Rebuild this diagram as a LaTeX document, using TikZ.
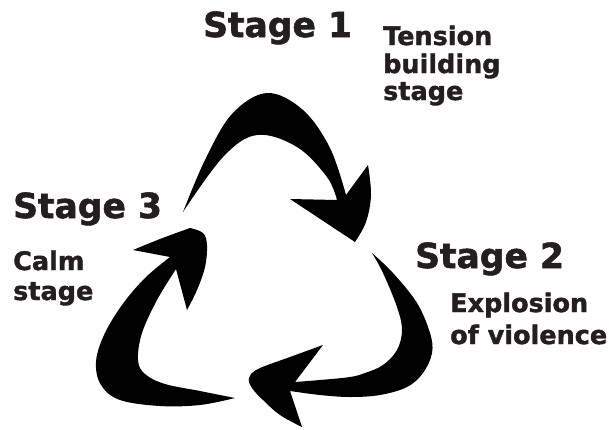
\documentclass[tikz,border=0pt]{standalone}
\usepackage{fontspec}
\setmainfont{DejaVu Sans}[BoldFeatures={FakeBold=1.6}]
\definecolor{txt}{HTML}{231F20}
\begin{document}
\begin{tikzpicture}[x=1pt,y=-1pt,
  stagelbl/.style={anchor=base west,inner sep=0pt,text=txt,font=\fontsize{34.5}{40}\selectfont\bfseries},
  desclbl/.style={anchor=base west,inner sep=0pt,text=txt,font=\fontsize{25.5}{30}\selectfont\bfseries},
  arrowshape/.style={fill=black}]
\useasboundingbox (0,0) rectangle (610,429);
% Arrow 1 (top)
\fill[arrowshape] plot[smooth,tension=0.6] coordinates {(183,212) (205,160) (232,114) (267,93) (303,110) (330,148) (346,195)}
  -- (368,165)
  -- plot[smooth,tension=0.6] coordinates {(368,165) (371,195) (366,222) (355,242)}
  -- (290,199) -- (337,200)
  -- plot[smooth,tension=0.6] coordinates {(337,200) (327,177) (297,147) (257,135) (223,157) (183,212)}
  -- cycle;
% Arrow 2 (right)
\fill[arrowshape] plot[smooth,tension=0.6] coordinates {(372,253) (393,273) (417,303) (430,333) (432,353) (423,373) (407,387) (380,395) (350,397) (320,395) (290,391)}
  -- (302,427)
  -- plot[smooth,tension=0.6] coordinates {(302,427) (280,415) (263,400) (252,388) (249,378) (258,369) (290,357) (323,345)}
  -- (295,382)
  -- plot[smooth,tension=0.6] coordinates {(295,382) (320,380) (350,377) (365,373) (383,365) (397,350) (402,330) (397,307) (383,273) (372,253)}
  -- cycle;
% Arrow 3 (left)
\fill[arrowshape] plot[smooth,tension=0.6] coordinates {(235,398) (200,391) (165,384) (145,374) (138,360) (142,333) (157,300) (176,269)}
  -- (187,310)
  -- plot[smooth,tension=0.6] coordinates {(187,310) (197,290) (205,267) (207,245) (203,233) (190,228)}
  -- plot[smooth,tension=0.6] coordinates {(190,228) (160,239) (133,250)}
  -- (170,257)
  -- plot[smooth,tension=0.6] coordinates {(170,257) (145,278) (122,305) (104,335) (96,362) (101,385) (120,400) (160,406) (200,405) (235,398)}
  -- cycle;
% Labels
\node[stagelbl] (s1) at (203,37) {Stage\hspace{0.35em}1};
\node[desclbl] (s1a) at (383,45) {Tension};
\node[desclbl] (s1b) at (383,73) {building};
\node[desclbl] (s1c) at (383,100) {stage};
\node[stagelbl] (s3) at (13,218) {Stage\hspace{0.35em}3};
\node[desclbl] (s3a) at (13,270) {Calm};
\node[desclbl] (s3b) at (13,300) {stage};
\node[stagelbl] (s2) at (415,268) {Stage\hspace{0.35em}2};
\node[desclbl] (s2a) at (450,312) {Explosion};
\node[desclbl] (s2b) at (450,344) {of violence};
\end{tikzpicture}
\end{document}
